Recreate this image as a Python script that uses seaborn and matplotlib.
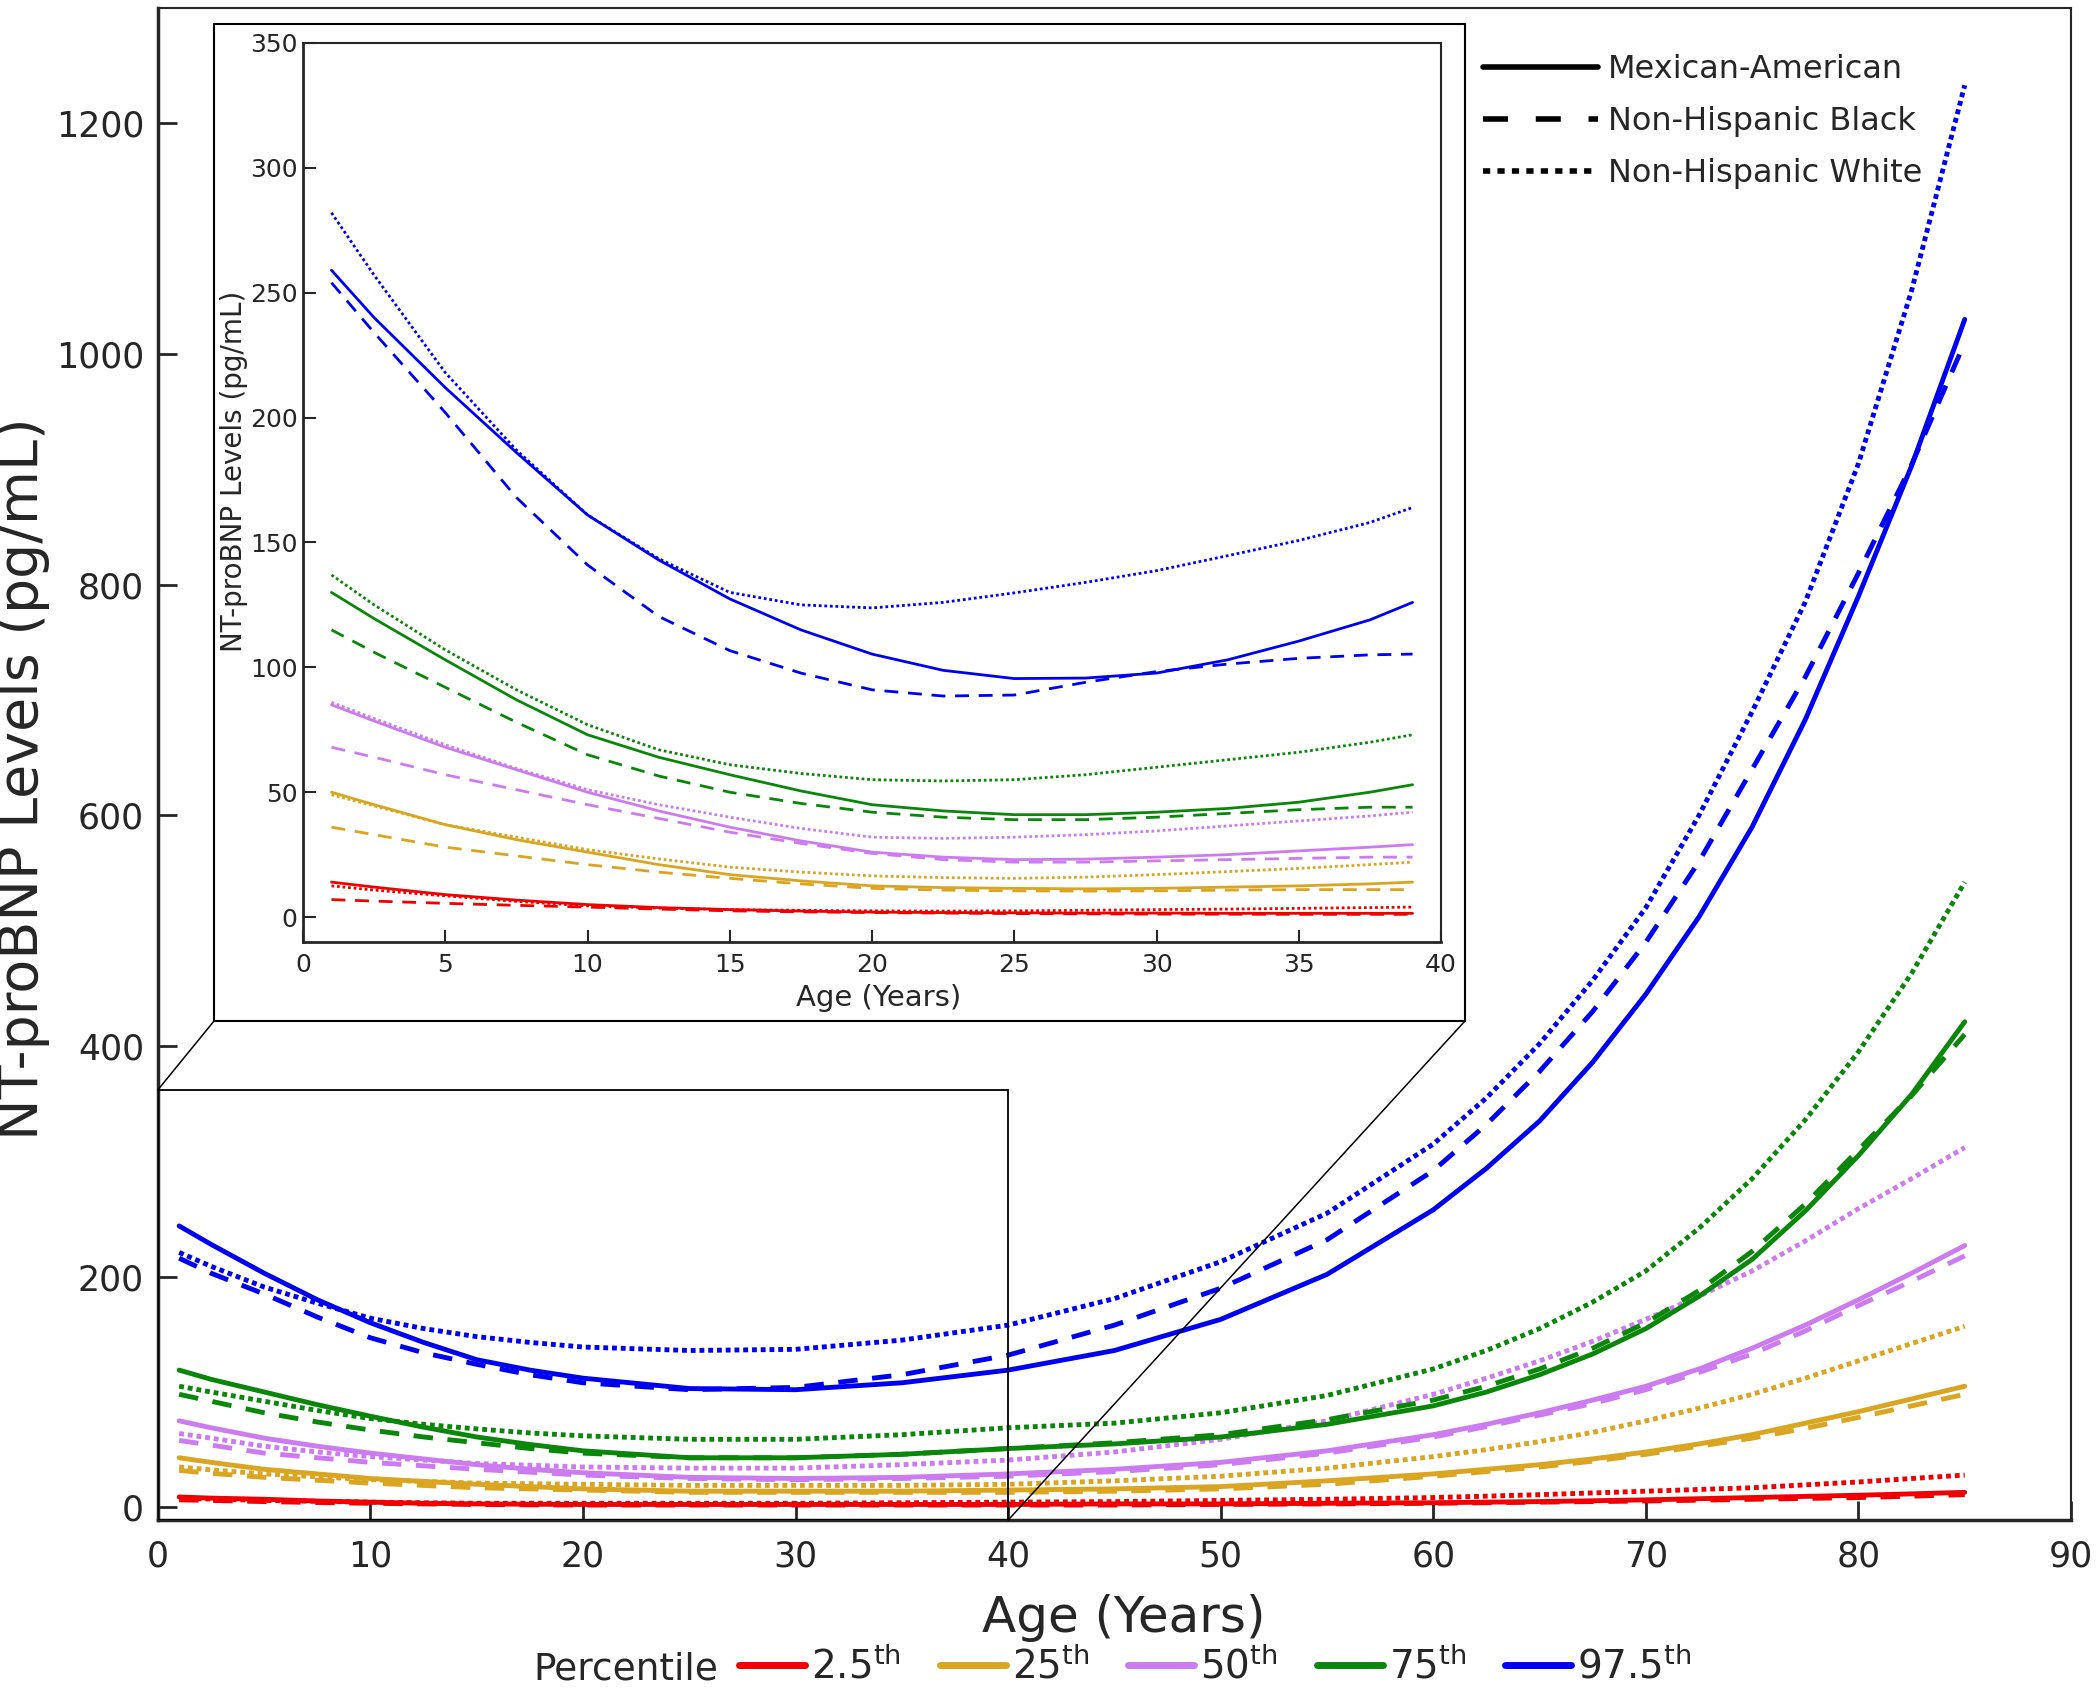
import numpy as np
import pandas as pd
import matplotlib.pyplot as plt
import seaborn as sns
from matplotlib.lines import Line2D
from matplotlib.patches import Rectangle, ConnectionPatch

# --- data ---------------------------------------------------------------
groups = ["Mexican-American", "Non-Hispanic Black", "Non-Hispanic White"]
percentiles = ["2.5", "25", "50", "75", "97.5"]
pct_labels = ["2.5$^{\\mathrm{th}}$", "25$^{\\mathrm{th}}$", "50$^{\\mathrm{th}}$",
              "75$^{\\mathrm{th}}$", "97.5$^{\\mathrm{th}}$"]
colors = ["#F00000", "#DAA520", "#CD7BF0", "#0A870A", "#0000F0"]

# main panel, age 1-85
ages = [1, 2.5, 5, 7.5, 10, 12.5, 15, 17.5, 20, 25, 30, 35, 40, 45, 50, 55,
        60, 62.5, 65, 67.5, 70, 72.5, 75, 77.5, 80, 82.5, 85]
ma_975 = [244, 228, 203, 180, 160, 143, 128, 119, 112, 103, 102, 108, 119, 136, 163, 202,
          258, 294, 335, 386, 445, 512, 590, 683, 790, 903, 1030]
nhb_975 = [216, 203, 185, 165, 147, 134, 124, 115, 108, 102, 104, 115, 132, 158, 190, 232,
           292, 332, 378, 430, 490, 560, 640, 720, 810, 904, 1010]
nhw_975 = [221, 209, 191, 177, 164, 155, 148, 143, 139, 136, 137, 145, 158, 181, 213, 255,
           315, 355, 402, 457, 520, 600, 690, 785, 905, 1055, 1233]
ma_75 = [119, 111, 100, 89, 79, 69.5, 61, 54.5, 49, 43, 43, 46, 51, 55, 61, 72,
         88, 100, 115, 133, 155, 183, 215, 257, 305, 358, 421]
nhb_75 = [98, 92, 82, 74, 67, 61, 56, 51, 47, 43, 43, 46, 51, 56, 63, 76,
          93, 105, 120, 138, 160, 188, 222, 263, 310, 357, 410]
nhw_75 = [105, 100, 92, 84, 77, 72, 68, 64.5, 62, 59, 59, 63, 69, 73, 82, 97,
          120, 136, 155, 178, 205, 242, 285, 336, 395, 463, 542]
ma_50 = [75, 69, 60, 53, 47, 42, 37, 33, 30, 26, 25, 26, 29, 33, 39, 49,
         63, 72, 82, 93, 105, 120, 138, 158, 180, 203, 227]
nhb_50 = [58, 54, 47, 43, 39, 36, 33, 30.5, 28, 25, 24, 25, 27, 31, 37, 47,
          61, 70, 80, 90, 102, 117, 133, 153, 175, 196, 218]
nhw_50 = [64, 60, 53, 48, 44, 41, 38, 36.5, 35, 34, 34, 37, 41, 48, 59, 75,
          98, 112, 127, 144, 163, 183, 205, 231, 259, 285, 312]
ma_25 = [43, 39, 33, 29, 25, 22.5, 20, 18, 16, 14, 14, 14, 15, 16, 18, 23,
         29, 33, 37, 42, 48, 55, 63, 73, 83, 94, 105]
nhb_25 = [32, 29.5, 26, 23.5, 21, 19, 17, 16, 15, 13, 13, 13, 13, 14, 16, 20,
          27, 31, 35, 40, 46, 53, 60, 68.5, 78, 88, 98]
nhw_25 = [35, 32.5, 29, 26.5, 24, 22.5, 21, 20.5, 20, 19, 19, 19, 20, 23, 27, 34,
          44, 50, 57, 65, 75, 86, 98, 112, 127, 142, 157]
ma_025 = [9, 8, 7, 5.5, 4.5, 3.5, 3, 2.7, 2.5, 2.5, 2.5, 2.5, 2.5, 3, 3, 3.5,
          4, 4.5, 5, 5.7, 6.5, 7.5, 8.5, 9.5, 10.5, 11.7, 13]
nhb_025 = [6.5, 6, 5, 4.2, 3.5, 3, 2.5, 2.2, 2, 2, 2, 2, 2, 2, 2.5, 3,
           3.5, 4, 4.5, 5, 5.5, 6.2, 7, 7.7, 8.5, 9.7, 11]
nhw_025 = [8, 7.2, 6, 5.2, 4.5, 4, 3.5, 3.5, 3.5, 3.5, 3.5, 4, 4.5, 5, 6, 7,
           8.5, 9.7, 11, 12.5, 14, 15.5, 17, 19.5, 22, 25, 28]

# inset panel, age 1-39
in_ages = [1, 2.5, 5, 7.5, 10, 12.5, 15, 17.5, 20, 22.5, 25, 27.5, 30, 32.5, 35, 37.5, 39]
in_ma_975 = [259, 240, 212, 186, 161, 143, 127.4, 115, 105.3, 98.8, 95.5, 95.7, 97.7, 103, 110.5, 119, 126]
in_nhb_975 = [254, 234, 202, 168, 141, 120.4, 106.7, 97.7, 91, 88.5, 88.9, 94, 98.3, 101.3, 103.6, 105, 105.3]
in_nhw_975 = [282, 257, 218, 187, 161, 143.5, 130, 125, 123.8, 126, 129.8, 134, 138.7, 144.7, 150.8, 158, 164]
in_ma_75 = [130, 119.5, 103, 87, 73, 64, 57, 50.5, 45, 42.5, 41, 41, 42, 43.5, 46, 50, 53]
in_nhb_75 = [115, 106, 92, 78, 65, 56.5, 50, 45.5, 42, 40, 39, 39, 40, 41.5, 43, 44, 44]
in_nhw_75 = [137, 125, 107, 91, 77, 67, 61, 57.5, 55, 54.5, 55, 57, 60, 63, 66, 70, 73]
in_ma_50 = [85, 78.5, 68, 59, 50, 42.5, 36, 30.5, 26, 24, 23, 23.2, 24, 25, 26.5, 28, 29]
in_nhb_50 = [68, 64, 57, 51, 45, 39.5, 34, 29.5, 25.5, 23, 22, 22, 22.5, 23, 23.5, 24, 24]
in_nhw_50 = [86, 79.5, 69, 59.5, 51, 45, 40, 35.5, 32, 31.5, 32, 33, 34.5, 36.5, 38.5, 40.5, 42]
in_ma_25 = [50, 45, 37, 31, 26, 21, 17, 14.5, 12.5, 11.8, 11.5, 11.3, 11.5, 12, 12.5, 13.3, 14]
in_nhb_25 = [36, 33, 28, 24.5, 21, 18, 15.5, 13.3, 11.5, 10.8, 10.5, 10.4, 10.5, 10.8, 11, 11, 11]
in_nhw_25 = [49, 44.5, 37, 32, 27, 23.3, 20, 18, 16.5, 15.8, 15.5, 16, 17, 18.2, 19.5, 21, 22]
in_ma_025 = [14, 12, 9, 6.8, 5, 3.8, 3, 2.4, 2, 1.8, 1.7, 1.6, 1.6, 1.5, 1.5, 1.5, 1.5]
in_nhb_025 = [7, 6.4, 5.5, 4.7, 4, 3.2, 2.5, 2.1, 1.8, 1.6, 1.4, 1.3, 1.2, 1.15, 1.1, 1.1, 1.1]
in_nhw_025 = [12.5, 10.8, 8.5, 6.3, 4.5, 3.6, 3, 2.7, 2.5, 2.4, 2.5, 2.7, 3, 3.2, 3.5, 3.8, 4]


def long_frame(x, table):
    rows = []
    for pct, per_group in zip(percentiles, table):
        for grp, vals in zip(groups, per_group):
            assert len(vals) == len(x)
            for a, v in zip(x, vals):
                rows.append({"age": a, "value": v, "percentile": pct, "group": grp})
    return pd.DataFrame(rows)


df_main = long_frame(ages, [
    (ma_025, nhb_025, nhw_025), (ma_25, nhb_25, nhw_25), (ma_50, nhb_50, nhw_50),
    (ma_75, nhb_75, nhw_75), (ma_975, nhb_975, nhw_975)])
df_inset = long_frame(in_ages, [
    (in_ma_025, in_nhb_025, in_nhw_025), (in_ma_25, in_nhb_25, in_nhw_25),
    (in_ma_50, in_nhb_50, in_nhw_50), (in_ma_75, in_nhb_75, in_nhw_75),
    (in_ma_975, in_nhb_975, in_nhw_975)])

# --- style ---------------------------------------------------------------
sns.set_style("ticks")
plt.rcParams["font.family"] = ["DejaVu Sans"]
plt.rcParams["mathtext.fontset"] = "dejavusans"

palette = dict(zip(percentiles, colors))
main_dashes = {groups[0]: "", groups[1]: (4, 3), groups[2]: (1, 0.8)}
inset_dashes = {groups[0]: "", groups[1]: (5, 3.5), groups[2]: (1, 1)}

fig = plt.figure(figsize=(21, 16.91), dpi=100)
ax = fig.add_axes([0.0752, 0.1011, 0.911, 0.8942])

sns.lineplot(data=df_main, x="age", y="value", hue="percentile", style="group",
             hue_order=percentiles, style_order=groups, palette=palette,
             dashes=main_dashes, linewidth=3.5, estimator=None, legend=False, ax=ax)

ax.set_xlim(0, 90)
ax.set_ylim(-11, 1300)
ax.set_xticks(range(0, 91, 10))
ax.set_yticks(range(0, 1201, 200))
ax.tick_params(axis="both", direction="in", length=14, width=2, labelsize=25)
ax.tick_params(axis="x", pad=14)
ax.tick_params(axis="y", pad=10)
for side in ["left", "bottom"]:
    ax.spines[side].set_linewidth(2.5)
for side in ["top", "right"]:
    ax.spines[side].set_linewidth(1.5)
ax.set_xlabel("Age (Years)", fontsize=36)
ax.set_ylabel("NT-proBNP Levels (pg/mL)", fontsize=40)
ax.xaxis.set_label_coords(0.505, -0.049)
ax.yaxis.set_label_coords(-0.0565, 0.49)

# zoom rectangle on the main axes
ax.add_patch(Rectangle((0, -11), 40, 373, fill=False, edgecolor="black", lw=1.3, zorder=3))

# white frame behind the inset
fx0, fy0, fw, fh = 0.1019, 0.3962, 0.5957, 0.5896
fig.add_artist(Rectangle((fx0, fy0), fw, fh, transform=fig.transFigure,
                         facecolor="white", edgecolor="black", lw=1.5, zorder=4))
for xy_a, xy_b in [((0, 362), (fx0, fy0)), ((40, -11), (fx0 + fw, fy0))]:
    fig.add_artist(ConnectionPatch(xyA=xy_a, coordsA=ax.transData, xyB=xy_b,
                                   coordsB=fig.transFigure, color="black", lw=1.1, zorder=3))

# --- inset ---------------------------------------------------------------
axi = fig.add_axes([0.1443, 0.4429, 0.5419, 0.5317], zorder=5)
sns.lineplot(data=df_inset, x="age", y="value", hue="percentile", style="group",
             hue_order=percentiles, style_order=groups, palette=palette,
             dashes=inset_dashes, linewidth=2, estimator=None, legend=False, ax=axi)
axi.set_xlim(0, 40)
axi.set_ylim(-10, 350)
axi.set_xticks(range(0, 41, 5))
axi.set_yticks(range(0, 351, 50))
axi.tick_params(axis="both", direction="in", length=9, width=1.5, labelsize=18)
axi.tick_params(axis="x", pad=8)
axi.tick_params(axis="y", pad=4)
for side in ["left", "bottom"]:
    axi.spines[side].set_linewidth(2)
for side in ["top", "right"]:
    axi.spines[side].set_linewidth(1.5)
axi.set_xlabel("Age (Years)", fontsize=21)
axi.set_ylabel("NT-proBNP Levels (pg/mL)", fontsize=20)
axi.xaxis.set_label_coords(0.506, -0.047)
axi.yaxis.set_label_coords(-0.048, 0.524)

# --- legends -------------------------------------------------------------
style_handles = [
    Line2D([], [], color="black", lw=4, linestyle="-"),
    Line2D([], [], color="black", lw=4, linestyle=(0, (4.5, 5))),
    Line2D([], [], color="black", lw=4, linestyle=(0, (1.3, 1.3))),
]
fig.legend(style_handles, groups, loc="upper left", bbox_to_anchor=(0.706, 0.968),
           frameon=False, fontsize=23, handlelength=3.6, handletextpad=0.33,
           labelspacing=0.66, borderpad=0, borderaxespad=0)

pct_handles = [Line2D([], [], color=c, lw=5) for c in colors]
fig.text(0.254, 0.0125, "Percentile", fontsize=27, ha="left", va="center")
fig.legend(pct_handles, pct_labels, loc="center left", bbox_to_anchor=(0.352, 0.0145),
           ncol=5, frameon=False, fontsize=28, handlelength=1.7, handletextpad=0.15,
           columnspacing=1.0, borderpad=0, borderaxespad=0)

fig.savefig("out.png", dpi=100)
